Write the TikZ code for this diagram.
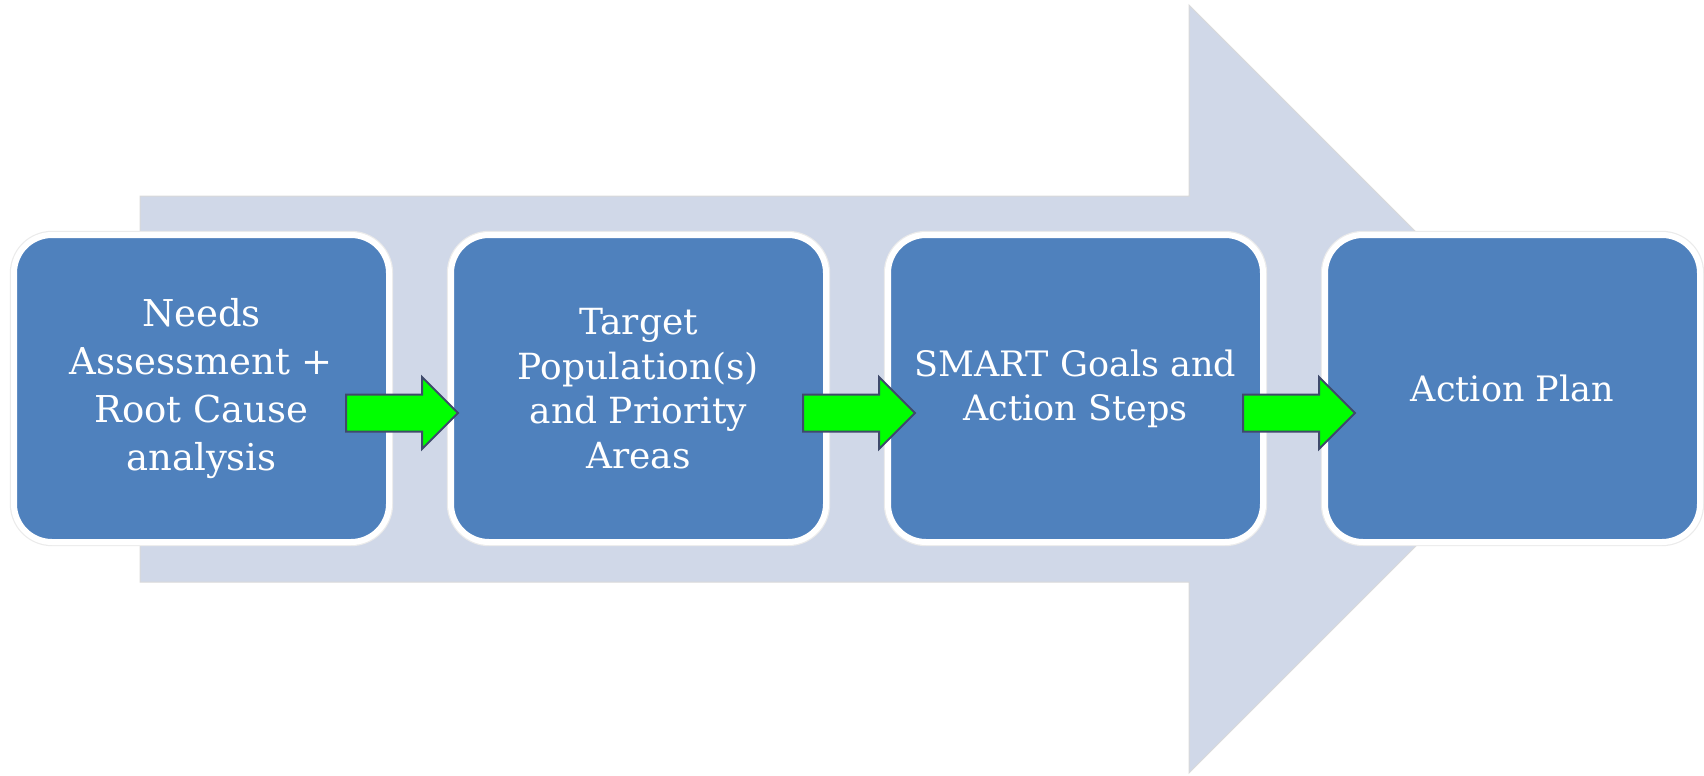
\documentclass[tikz,border=0pt]{standalone}
\usepackage{fontspec}
\setmainfont{DejaVu Serif}
\usetikzlibrary{shapes.arrows}
\usetikzlibrary{positioning}
\definecolor{stageblue}{HTML}{4F81BD}
\definecolor{flowgrey}{HTML}{D0D8E8}
\definecolor{linkedge}{HTML}{3F4A6B}

\begin{document}
\begin{tikzpicture}[x=0.5pt,y=-0.5pt,
	stage/.style={rectangle,rounded corners=19pt,fill=stageblue,draw=white,line width=3pt,
		preaction={draw=black!8,line width=4.2pt},
		minimum width=187.5pt,minimum height=153.5pt,inner sep=0pt,outer sep=0pt,
		text=white,align=center},
	link/.style={single arrow,fill=green,draw=linkedge,line width=1pt,
		inner xsep=0pt,inner ysep=8.75pt,minimum height=56pt,
		single arrow head extend=8.75pt,anchor=tail,outer sep=0pt}]
		\useasboundingbox (0,0) rectangle (1704,776);
		% big background arrow
		\filldraw[fill=flowgrey,draw=black!15,line width=0.5pt]
			(140,196) -- (1189,196) -- (1189,5) -- (1573,389) -- (1189,773) -- (1189,582) -- (140,582) -- cycle;
		% stages
		\node[stage,font=\fontsize{18.5}{24}\selectfont] (needs) at (201.5,388.5)
			{Needs\\Assessment +\\Root Cause\\analysis};
		\node[stage,font=\fontsize{18}{22.3}\selectfont,right=31pt of needs] (target)
			{Target\\Population(s)\\and Priority\\Areas};
		\node[stage,font=\fontsize{17.5}{22}\selectfont,right=31pt of target] (smart)
			{SMART Goals and\\Action Steps};
		\node[stage,font=\fontsize{17.5}{22}\selectfont,right=31pt of smart] (plan)
			{Action Plan};
		% green links
		\node[link] (l1) at (346,413) {};
		\node[link] (l2) at (803,413) {};
		\node[link] (l3) at (1243,413) {};
\end{tikzpicture}
\end{document}
